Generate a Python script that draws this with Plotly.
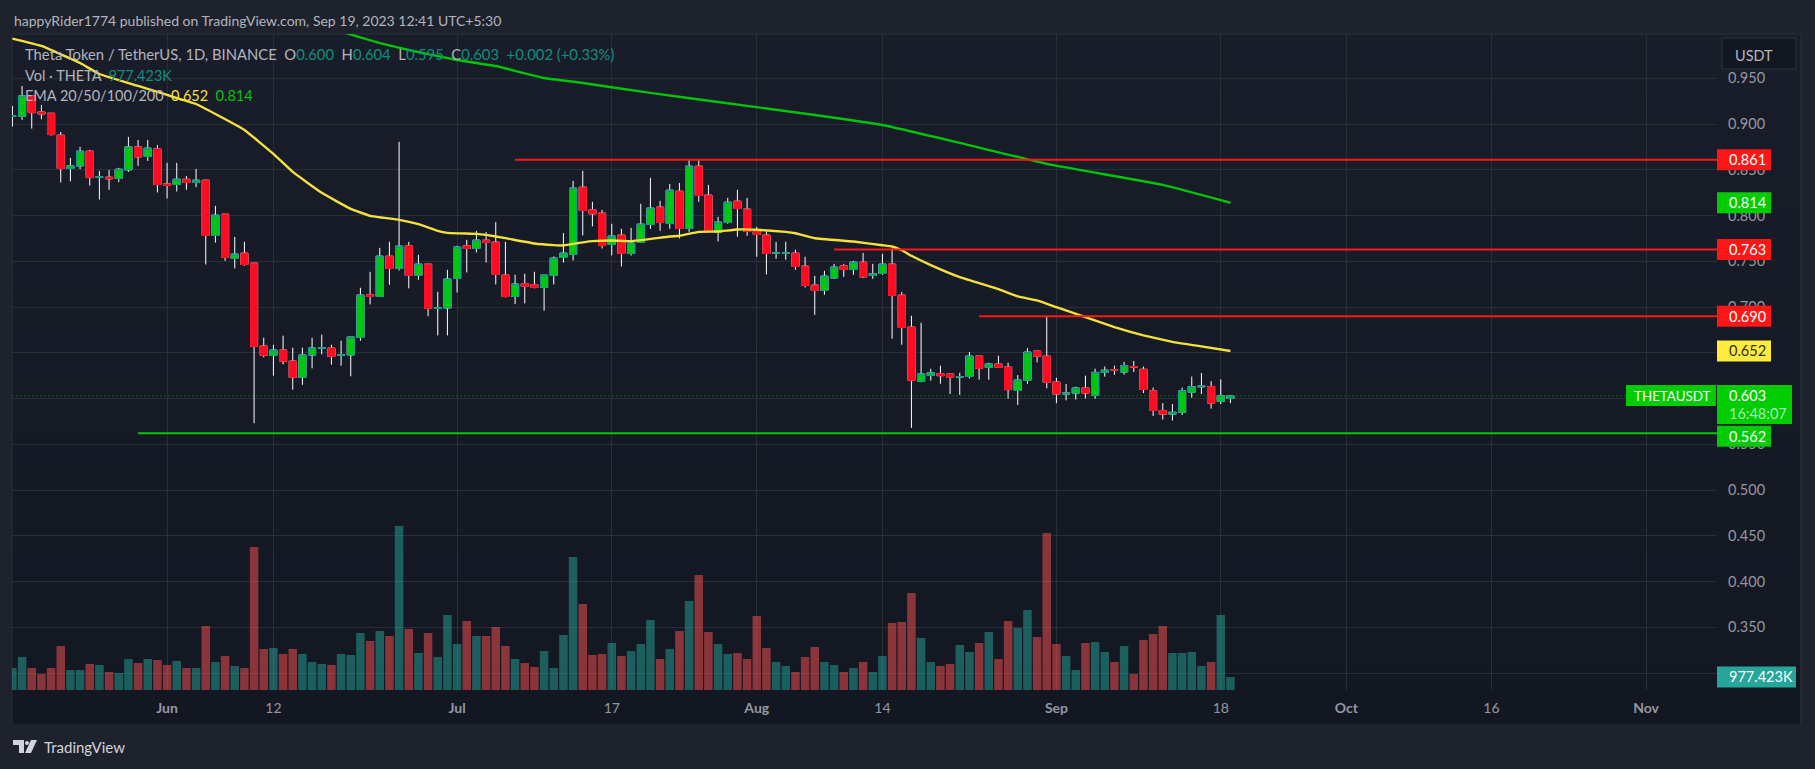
import pandas as pd
import plotly.graph_objects as go

W, H = 1815, 769
FONT = "Lato"
GREY = "#b2b5be"
TICK = "#9598a1"
UP = "#00c80a"
UP_EDGE = "#089981"
DOWN = "#ff0b22"
GRID = "#2a2e39"

# prices, one value per day from 16 May 2023
opens = [.9085, .9085, .9307, .9132, .9118, .8878, .8514, .8543, .8703, .8419,
         .8419, .8405, .8499, .8750, .8645, .8728,
         .8346, .8339, .8397, .8361, .8386, .7782, .8015, .7531, .7589, .7480,
         .6574, .6472, .6530, .6410, .6232, .6476, .6552, .6552, .6475, .6477,
         .6668, .7134, .7116, .7556, .7422, .7669, .7346, .7469, .6985, .6990,
         .7313, .7669, .7640, .7731, .7709, .7349, .7116, .7255, .7244, .7215,
         .7346, .7542, .7575, .8310, .8062, .8026, .7684, .7786, .7586, .7706,
         .7902, .8092, .7913, .8266, .7859, .8539, .8223, .7815, .7924, .8157, .8070,
         .7826, .7786, .7589, .7589, .7589, .7447, .7239, .7181, .7319, .7450,
         .7410, .7490, .7345, .7367, .7469, .7130, .6781, .6188, .6253, .6271,
         .6268, .6235, .6242, .6464, .6341, .6377, .6344, .6088, .6199, .6519, .6464,
         .6180, .6050, .6060, .6115, .6033, .6286, .6315, .6290, .6350, .6320,
         .6085, .5870, .5830, .5850, .6070, .6128, .6130, .5970, .6000]
closes = [.9090, .9307, .9125, .9110, .8885, .8514, .8543, .8703, .8415, .8424,
          .8401, .8506, .8750, .8641, .8736, .8339,
          .8328, .8397, .8361, .8386, .7782, .8004, .7542, .7578, .7465, .6570,
          .6472, .6530, .6407, .6232, .6476, .6552, .6553, .6461, .6477, .6672,
          .7131, .7116, .7556, .7422, .7665, .7346, .7469, .6985, .6990, .7306,
          .7655, .7640, .7731, .7706, .7356, .7116, .7251, .7226, .7215, .7349,
          .7535, .7589, .8299, .8055, .8019, .7673, .7775, .7586, .7699, .7906,
          .8081, .7924, .8277, .7859, .8539, .8219, .7826, .7928, .8146, .8077, .7826,
          .7793, .7586, .7591, .7591, .7444, .7236, .7181, .7338, .7436, .7410,
          .7490, .7330, .7363, .7469, .7127, .6777, .6199, .6268, .6282, .6250,
          .6231, .6239, .6464, .6330, .6377, .6341, .6098, .6202, .6508, .6461, .6177,
          .6050, .6060, .6115, .6060, .6286, .6310, .6312, .6360, .6345, .6100,
          .5870, .5830, .5850, .6085, .6130, .6135, .5950, .6030, .6030]
highs = [.9198, .9416, .9310, .9209, .9118, .8914, .8630, .8750, .8717, .8488,
         .8499, .8521, .8859, .8827, .8827, .8772,
         .8576, .8576, .8433, .8510, .8393, .8106, .8015, .7767, .7713, .7480,
         .6665, .6588, .6687, .6556, .6556, .6665, .6698, .6588, .6632, .6672,
         .7211, .7385, .7647, .7713, .8805, .7713, .7571, .7469, .7167, .7407,
         .7669, .7735, .7833, .7819, .7928, .7713, .7353, .7364, .7386, .7349,
         .7553, .7808, .8379, .8488, .8150, .8062, .7910, .7855, .7866, .8128,
         .8412, .8161, .8346, .8357, .8608, .8608, .8335, .7986, .8193, .8281, .8193,
         .7877, .7830, .7713, .7713, .7626, .7549, .7341, .7396, .7472, .7472,
         .7505, .7592, .7472, .7581, .7643, .7163, .6905, .6828, .6326, .6359,
         .6268, .6282, .6508, .6464, .6392, .6468, .6392, .6257, .6552, .6519, .6894,
         .6227, .6160, .6130, .6250, .6326, .6350, .6360, .6400, .6410, .6350,
         .6120, .5950, .5940, .6120, .6240, .6280, .6190, .6210, .6040]
lows = [.8972, .9045, .8950, .9052, .8874, .8361, .8372, .8507, .8328, .8175,
        .8281, .8365, .8477, .8543, .8597, .8252,
        .8186, .8263, .8281, .8310, .7465, .7705, .7505, .7422, .7451, .5730,
        .6450, .6250, .6374, .6097, .6150, .6330, .6483, .6370, .6359, .6243,
        .6632, .7029, .7116, .7243, .7400, .7204, .7298, .6900, .6690, .6690,
        .7160, .7378, .7597, .7487, .7247, .7105, .7032, .7040, .7204, .6960,
        .7247, .7487, .7509, .7782, .7881, .7640, .7564, .7444, .7564, .7706,
        .7855, .7833, .7855, .7750, .7822, .8150, .7826, .7717, .7910, .7768, .7779,
        .7549, .7357, .7528, .7517, .7407, .7214, .6915, .7134, .7309, .7330,
        .7352, .7319, .7309, .7352, .6654, .6588, .5680, .6177, .6195, .6162,
        .6050, .6040, .6220, .6206, .6206, .6341, .6000, .5930, .6160, .6395, .6112,
        .5950, .5980, .5990, .6000, .5998, .6240, .6260, .6260, .6290, .6060,
        .5810, .5770, .5760, .5820, .6010, .6050, .5890, .5940, .5950]
# volume in thousands
volumes = [1650, 2475, 1650, 1200, 1650, 3300, 1500, 1500, 1950, 1875,
           1350, 1275, 2325, 2025, 2325, 2250,
           1875, 2175, 1650, 1650, 4800, 2100, 2550, 1800, 1650, 10725,
           3075, 3150, 2700, 3075, 2700, 2100, 1950, 1875, 2700, 2625,
           4275, 3675, 4425, 4050, 12300, 4575, 2775, 4275, 2475, 5625,
           3450, 5175, 4050, 4050, 4725, 3300, 2325, 2025, 1725, 2925,
           1650, 4125, 9975, 6450, 2625, 2700, 3525, 2550, 2925, 3450,
           5250, 2325, 3075, 4425, 6675, 8625, 4350, 3450, 2700, 2775, 2325,
           5550, 3150, 2100, 1800, 1350, 2475, 3225, 2100, 1875, 1350,
           1650, 2100, 1350, 2550, 5025, 5100, 7275, 3900, 2100, 1800,
           1950, 3375, 2850, 3525, 4350, 2325, 5175, 4650, 6000, 3975, 11775,
           3450, 2550, 1500, 3525, 3600, 2850, 2100, 3300, 1200, 3750,
           4200, 4800, 2775, 2775, 2850, 1800, 2100, 5625, 977.423]
days = pd.date_range("2023-05-16", periods=len(opens), freq="D")

ema50_dates = ["2023-05-16", "2023-05-19", "2023-05-23", "2023-05-25", "2023-05-29", "2023-06-01",
               "2023-06-04", "2023-06-06", "2023-06-09", "2023-06-12", "2023-06-14", "2023-06-17",
               "2023-06-20", "2023-06-22", "2023-06-25", "2023-06-27", "2023-06-29", "2023-06-30",
               "2023-07-03", "2023-07-04", "2023-07-06", "2023-07-09", "2023-07-11", "2023-07-12",
               "2023-07-13", "2023-07-15", "2023-07-17", "2023-07-19", "2023-07-23", "2023-07-24",
               "2023-07-26", "2023-07-28", "2023-07-30", "2023-08-01", "2023-08-04", "2023-08-05",
               "2023-08-07", "2023-08-11", "2023-08-14", "2023-08-15", "2023-08-16", "2023-08-17",
               "2023-08-19", "2023-08-22", "2023-08-26", "2023-08-28", "2023-08-30", "2023-09-01",
               "2023-09-04", "2023-09-07", "2023-09-10", "2023-09-13", "2023-09-16", "2023-09-19"]
ema50 = [.9934, .9853, .9667, .9547, .9416, .9318,
         .9219, .9110, .8936, .8674, .8477, .8248,
         .8073, .7997, .7953, .7906, .7833, .7811,
         .7800, .7789, .7753, .7695, .7677, .7673,
         .7691, .7720, .7728, .7720, .7771, .7779,
         .7822, .7826, .7848, .7844, .7822, .7807,
         .7752, .7716, .7676, .7662, .7621, .7560,
         .7458, .7327, .7196, .7116, .7072, .6999,
         .6890, .6780, .6690, .6620, .6570, .6520]
ema200_dates = ["2023-06-19", "2023-06-23", "2023-06-26", "2023-07-01", "2023-07-05", "2023-07-10",
                "2023-07-14", "2023-07-21", "2023-07-28", "2023-08-07", "2023-08-14", "2023-08-22",
                "2023-08-31", "2023-09-12", "2023-09-19"]
ema200 = [1.001, .9885, .9809, .9700, .9634, .9503,
          .9449, .9340, .9241, .9099, .8990, .8794,
          .8564, .8335, .814]

# hand drawn levels: start date, price, colour
levels = [("2023-07-07", .861, "#ff1616"),
          ("2023-08-09", .763, "#ff1616"),
          ("2023-08-24", .690, "#ff1616"),
          ("2023-05-29", .562, "#00c800")]

price_ticks = [.95, .90, .85, .80, .75, .70, .65, .60, .55, .50, .45, .40, .35, .30]
# 0.650 and 0.600 sit fully behind the price labels
price_labels = ["0.950", "0.900", "0.850", "0.800", "0.750", "0.700", "", "",
                "0.550", "0.500", "0.450", "0.400", "0.350", ""]
date_ticks = ["2023-06-01", "2023-06-12", "2023-07-01", "2023-07-17", "2023-08-01", "2023-08-14",
              "2023-09-01", "2023-09-18", "2023-10-01", "2023-10-16", "2023-11-01"]
date_labels = ["<b>Jun</b>", "12", "<b>Jul</b>", "17", "<b>Aug</b>", "14",
               "<b>Sep</b>", "18", "<b>Oct</b>", "16", "<b>Nov</b>"]

x_end = "2023-11-08 08:00"
y_range = [.2815, .9984]
px_per_price = 656 / (y_range[1] - y_range[0])
vol_max = 656 * 75


def px(x):
    return x / W


def py(y):
    return 1 - y / H


def page_rect(x0, y0, x1, y1, fill, line=None, layer="below"):
    return dict(type="rect", xref="paper", yref="paper", x0=px(x0), x1=px(x1), y0=py(y0), y1=py(y1),
                fillcolor=fill, line=dict(width=1 if line else 0, color=line or fill), layer=layer)


def label_box(price, color, x1, shift=0):
    half = 10.5 / px_per_price
    off = shift / px_per_price
    return dict(type="rect", xref="paper", yref="y", x0=px(1717), x1=px(x1),
                y0=price - half + off, y1=price + half + off,
                fillcolor=color, line=dict(width=0), layer="above")


def note(text, x, y, size=14.5, color=GREY, yref="paper", yshift=0):
    return dict(text=text, xref="paper", yref=yref, x=px(x), y=y, xanchor="left", yanchor="middle",
                showarrow=False, yshift=yshift, font=dict(family=FONT, size=size, color=color))


fig = go.Figure()

# volume sits on its own hidden axis
vol_colors = ["rgba(38,166,154,0.5)" if c >= o else "rgba(255,82,82,0.5)" for o, c in zip(opens, closes)]
fig.add_trace(go.Bar(x=days, y=volumes, marker=dict(color=vol_colors, line=dict(width=0)), yaxis="y2"))

# wicks are white, bodies have their own edge, so two candlestick traces
fig.add_trace(go.Candlestick(x=days, open=opens, high=highs, low=lows, close=closes,
                             increasing=dict(line=dict(color="#ffffff", width=1), fillcolor="#ffffff"),
                             decreasing=dict(line=dict(color="#ffffff", width=1), fillcolor="#ffffff")))
fig.add_trace(go.Candlestick(x=days, open=opens, close=closes,
                             high=[max(o, c) for o, c in zip(opens, closes)],
                             low=[min(o, c) for o, c in zip(opens, closes)],
                             increasing=dict(line=dict(color=UP_EDGE, width=1), fillcolor=UP),
                             decreasing=dict(line=dict(color=DOWN, width=1), fillcolor=DOWN)))

fig.add_trace(go.Scatter(x=ema50_dates, y=ema50, mode="lines",
                         line=dict(color="#f5e239", width=2.4, shape="spline", smoothing=0.3)))
fig.add_trace(go.Scatter(x=ema200_dates, y=ema200, mode="lines",
                         line=dict(color="#00c40a", width=2.4, shape="spline", smoothing=0.3)))
for start, price, color in levels:
    fig.add_trace(go.Scatter(x=[start, x_end], y=[price, price], mode="lines", line=dict(color=color, width=2)))
fig.add_trace(go.Scatter(x=[days[0], x_end], y=[closes[-1], closes[-1]], mode="lines",
                         line=dict(color="#10b820", width=0.8, dash="1px 3px")))

# page and pane background, top slightly lighter than the bottom
top, bottom = (25, 29, 41), (19, 23, 34)
bands = 24
shapes = []
for i in range(bands):
    t = i / (bands - 1)
    c = [round(a + (b - a) * t) for a, b in zip(top, bottom)]
    y0 = 34 + (725 - 34) * i / bands
    y1 = 34 + (725 - 34) * (i + 1) / bands + 1
    shapes.append(page_rect(12, y0, 1800, y1, "rgb(%d,%d,%d)" % tuple(c)))
shapes.append(page_rect(12, 34, 1801, 725, "rgba(0,0,0,0)", line="#2a2e39"))

# price labels on the scale
shapes.append(label_box(.861, "#ff1616", 1771))
shapes.append(label_box(.814, "#00cc00", 1771))
shapes.append(label_box(.763, "#ff1616", 1771))
shapes.append(label_box(.690, "#ff1616", 1771))
shapes.append(label_box(.652, "#ffeb3b", 1771))
shapes.append(page_rect(1717, 385, 1792, 424, "#00cc00", layer="above"))
shapes.append(page_rect(1626, 385, 1716, 406, "#00cc00", layer="above"))
shapes.append(label_box(.562, "#00cc00", 1771, shift=-3))
shapes.append(dict(type="rect", xref="paper", yref="y2", x0=px(1717), x1=px(1796),
                   y0=volumes[-1] - 10.5 * 75, y1=volumes[-1] + 10.5 * 75,
                   fillcolor="#26a69a", line=dict(width=0), layer="above"))
# currency button
shapes.append(page_rect(1722, 38, 1796, 69, "#131722", line="#2f333e", layer="above"))

# TradingView logo
logo_t = "M %f %f L %f %f L %f %f L %f %f L %f %f L %f %f Z" % (
    px(13), py(740), px(24), py(740), px(24), py(753), px(19), py(753), px(19), py(745), px(13), py(745))
logo_7 = "M %f %f L %f %f L %f %f L %f %f Z" % (
    px(31), py(740), px(37), py(740), px(31), py(753), px(25), py(753))
shapes.append(dict(type="path", path=logo_t, xref="paper", yref="paper", fillcolor="#d1d4dc", line=dict(width=0)))
shapes.append(dict(type="path", path=logo_7, xref="paper", yref="paper", fillcolor="#d1d4dc", line=dict(width=0)))
shapes.append(dict(type="circle", xref="paper", yref="paper", x0=px(25), x1=px(29), y0=py(745), y1=py(741),
                   fillcolor="#d1d4dc", line=dict(width=0)))

teal = "#0e8f7e"
gap = "\u00a0\u00a0"


def val(s):
    return '<span style="color:%s">%s</span>' % (teal, s)


notes = [
    note("happyRider1774 published on TradingView.com, Sep 19, 2023 12:41 UTC+5:30", 12, py(20), size=14),
    note("Theta Token / TetherUS, 1D, BINANCE" + gap + "O" + val("0.600") + gap + "H" + val("0.604") + gap + "L"
         + val("0.595") + gap + "C" + val("0.603") + gap + val("+0.002 (+0.33%)"), 23, py(54), size=14.8),
    note("Vol · THETA" + gap + val("977.423K"), 23, py(75)),
    note('EMA 20/50/100/200' + gap + '<span style="color:#f5e239">0.652</span>' + gap
         + '<span style="color:#00c40a">0.814</span>', 23, py(96)),
    note("USDT", 1733, py(55)),
    note("TradingView", 42, py(747), size=15, color="#d1d4dc"),
    note("0.861", 1727, .861, color="#ffffff", yref="y"),
    note("0.814", 1727, .814, color="#ffffff", yref="y"),
    note("0.763", 1727, .763, color="#ffffff", yref="y"),
    note("0.690", 1727, .690, color="#ffffff", yref="y"),
    note("0.652", 1727, .652, color="#2a2e39", yref="y"),
    note("0.603", 1727, closes[-1], color="#ffffff", yref="y"),
    note("16:48:07", 1727, py(414), color="#a9ecad"),
    note("THETAUSDT", 1632, py(396), size=13.4, color="#ffffff"),
    note("0.562", 1727, .562, color="#ffffff", yref="y", yshift=-3),
    note("977.423K", 1727, volumes[-1], color="#ffffff", yref="y2"),
]

fig.update_layout(
    width=W, height=H, autosize=False, showlegend=False,
    margin=dict(l=0, r=0, t=0, b=0, pad=0),
    paper_bgcolor="#1e222d", plot_bgcolor="rgba(0,0,0,0)",
    bargap=0.12, boxgap=0.26, boxgroupgap=0,
    shapes=shapes, annotations=notes,
    xaxis=dict(type="date", domain=[px(12), px(1717)], range=["2023-05-15 23:00", x_end],
               rangeslider=dict(visible=False), tickmode="array", tickvals=date_ticks, ticktext=date_labels,
               showgrid=True, gridcolor=GRID, gridwidth=1, zeroline=False, showline=False, ticks="",
               ticklabelstandoff=8, tickfont=dict(family=FONT, size=14, color=TICK), anchor="y"),
    yaxis=dict(domain=[py(690), py(34)], range=y_range, side="right", tickmode="array", tickvals=price_ticks,
               ticktext=price_labels, showgrid=True, gridcolor=GRID, gridwidth=1,
               zeroline=False, showline=False, ticks="", ticklabelstandoff=10,
               tickfont=dict(family=FONT, size=14.5, color=TICK), anchor="x"),
    yaxis2=dict(domain=[py(690), py(34)], range=[0, vol_max], overlaying="y", visible=False, anchor="x"),
)

fig.write_html("out.html", config=dict(displayModeBar=False), post_script="document.body.style.margin='0';")
